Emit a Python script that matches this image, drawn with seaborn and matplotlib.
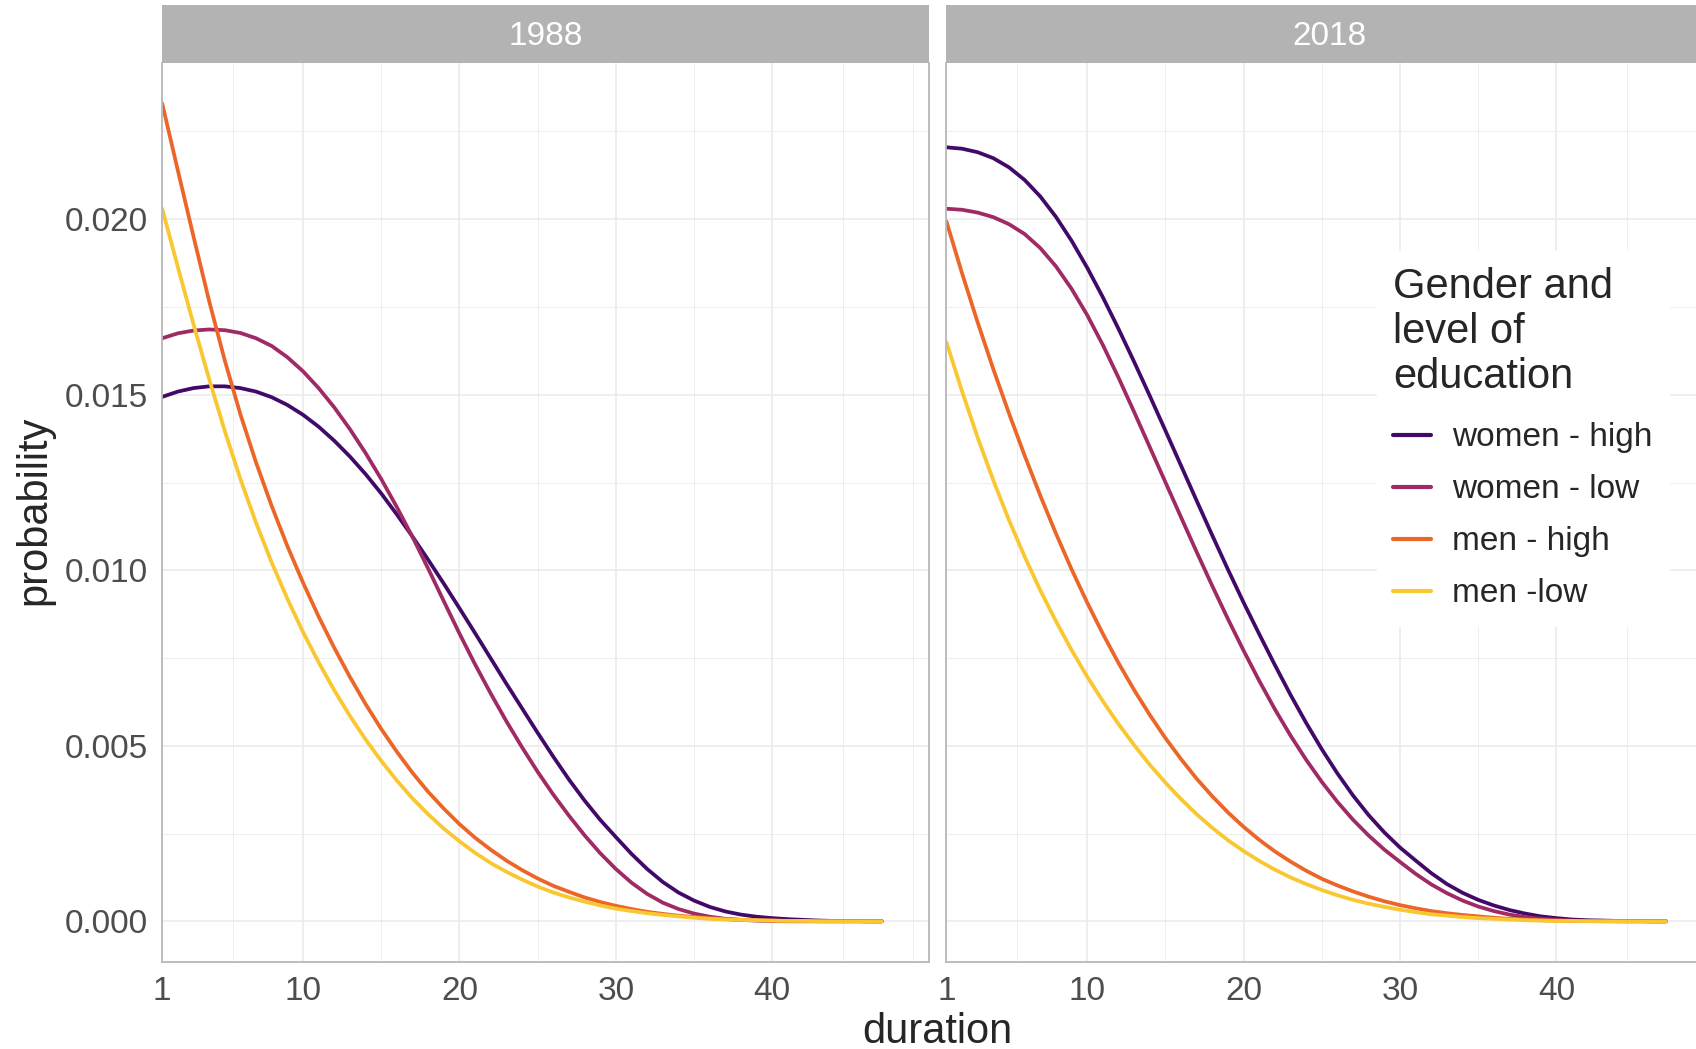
import numpy as np
import pandas as pd
import matplotlib.pyplot as plt
import seaborn as sns
from matplotlib.ticker import FixedLocator

# durations 1..47, values
duration = list(range(1, 48))

groups = ["women - high", "women - low", "men - high", "men -low"]
years = ["1988", "2018"]

# 1988
women_high_1988 = [0.01494, 0.01509, 0.01519, 0.01524, 0.01524, 0.01519, 0.01509, 0.01493,
                   0.01471, 0.01443, 0.01409, 0.01369, 0.01324, 0.01274, 0.01219, 0.01159,
                   0.01096, 0.01030, 0.00962, 0.00892, 0.00821, 0.00749, 0.00677, 0.00607,
                   0.00537, 0.00469, 0.00404, 0.00344, 0.00289, 0.00240, 0.00192, 0.00149,
                   0.00112, 0.00082, 0.00059, 0.00041, 0.00028, 0.00019, 0.00013, 0.00009,
                   0.00006, 0.00004, 0.00002, 0.00001, 0.00001, 0.0, 0.0]
women_low_1988 = [0.01661, 0.01675, 0.01683, 0.01686, 0.01684, 0.01676, 0.01661, 0.01639,
                  0.01607, 0.01567, 0.01519, 0.01464, 0.01402, 0.01334, 0.01260, 0.01180,
                  0.01095, 0.01005, 0.00912, 0.00820, 0.00732, 0.00649, 0.00570, 0.00496,
                  0.00426, 0.00361, 0.00301, 0.00245, 0.00194, 0.00149, 0.00110, 0.00078,
                  0.00053, 0.00035, 0.00022, 0.00013, 0.00007, 0.00004, 0.00002, 0.00001,
                  0.0, 0.0, 0.0, 0.0, 0.0, 0.0, 0.0]
men_high_1988 = [0.02330, 0.02139, 0.01951, 0.01767, 0.01598, 0.01444, 0.01307, 0.01183,
                 0.01069, 0.00965, 0.00868, 0.00779, 0.00696, 0.00619, 0.00548, 0.00483,
                 0.00423, 0.00369, 0.00321, 0.00277, 0.00238, 0.00204, 0.00173, 0.00146,
                 0.00122, 0.00101, 0.00084, 0.00068, 0.00055, 0.00044, 0.00035, 0.00027,
                 0.00021, 0.00016, 0.00012, 0.00009, 0.00006, 0.00004, 0.00003, 0.00002,
                 0.00001, 0.00001, 0.0, 0.0, 0.0, 0.0, 0.0]
men_low_1988 = [0.02030, 0.01864, 0.01701, 0.01545, 0.01397, 0.01260, 0.01135, 0.01022,
                0.00919, 0.00824, 0.00738, 0.00658, 0.00585, 0.00518, 0.00457, 0.00401,
                0.00350, 0.00305, 0.00264, 0.00228, 0.00195, 0.00166, 0.00141, 0.00119,
                0.00099, 0.00082, 0.00068, 0.00056, 0.00045, 0.00036, 0.00029, 0.00023,
                0.00018, 0.00014, 0.00010, 0.00007, 0.00005, 0.00004, 0.00003, 0.00002,
                0.00001, 0.00001, 0.0, 0.0, 0.0, 0.0, 0.0]

# 2018
women_high_2018 = [0.02205, 0.02201, 0.02191, 0.02174, 0.02148, 0.02112, 0.02065, 0.02007,
                   0.01939, 0.01862, 0.01778, 0.01688, 0.01594, 0.01497, 0.01398, 0.01298,
                   0.01198, 0.01099, 0.01002, 0.00908, 0.00818, 0.00730, 0.00645, 0.00565,
                   0.00490, 0.00421, 0.00358, 0.00302, 0.00253, 0.00210, 0.00173, 0.00137,
                   0.00106, 0.00081, 0.00061, 0.00045, 0.00032, 0.00022, 0.00014, 0.00009,
                   0.00005, 0.00003, 0.00002, 0.00001, 0.00001, 0.0, 0.0]
women_low_2018 = [0.02030, 0.02027, 0.02019, 0.02006, 0.01986, 0.01958, 0.01918, 0.01866,
                  0.01802, 0.01727, 0.01642, 0.01549, 0.01451, 0.01351, 0.01251, 0.01151,
                  0.01052, 0.00955, 0.00861, 0.00771, 0.00685, 0.00604, 0.00529, 0.00460,
                  0.00397, 0.00340, 0.00289, 0.00244, 0.00204, 0.00169, 0.00135, 0.00105,
                  0.00080, 0.00059, 0.00042, 0.00029, 0.00019, 0.00012, 0.00007, 0.00004,
                  0.00002, 0.00001, 0.00001, 0.0, 0.0, 0.0, 0.0]
men_high_2018 = [0.01994, 0.01846, 0.01706, 0.01573, 0.01447, 0.01327, 0.01213, 0.01105,
                 0.01003, 0.00908, 0.00819, 0.00736, 0.00659, 0.00588, 0.00522, 0.00462,
                 0.00406, 0.00356, 0.00310, 0.00269, 0.00232, 0.00199, 0.00170, 0.00144,
                 0.00121, 0.00102, 0.00085, 0.00070, 0.00057, 0.00046, 0.00037, 0.00029,
                 0.00023, 0.00018, 0.00014, 0.00010, 0.00007, 0.00005, 0.00003, 0.00002,
                 0.00001, 0.00001, 0.0, 0.0, 0.0, 0.0, 0.0]
men_low_2018 = [0.01650, 0.01510, 0.01378, 0.01256, 0.01143, 0.01039, 0.00943, 0.00855,
                0.00773, 0.00697, 0.00627, 0.00562, 0.00502, 0.00446, 0.00395, 0.00348,
                0.00305, 0.00266, 0.00231, 0.00200, 0.00172, 0.00147, 0.00125, 0.00106,
                0.00089, 0.00074, 0.00061, 0.00050, 0.00041, 0.00033, 0.00026, 0.00020,
                0.00016, 0.00012, 0.00009, 0.00007, 0.00005, 0.00003, 0.00002, 0.00001,
                0.00001, 0.0, 0.0, 0.0, 0.0, 0.0, 0.0]

series = {
    "1988": [women_high_1988, women_low_1988, men_high_1988, men_low_1988],
    "2018": [women_high_2018, women_low_2018, men_high_2018, men_low_2018],
}

rows = []
for yr in years:
    for grp, vals in zip(groups, series[yr]):
        for d, p in zip(duration, vals):
            rows.append({"year": yr, "group": grp, "duration": d, "probability": p})
df = pd.DataFrame(rows)

sns.set_theme(style="white")
plt.rcParams["font.family"] = ["Liberation Sans", "DejaVu Sans"]

cmap = plt.get_cmap("inferno")
palette = dict(zip(groups, [cmap(v) for v in [0.2, 0.43, 0.66, 0.87]]))

W, H = 1696, 1049
fig = plt.figure(figsize=(W / 100, H / 100), dpi=100)

px_left = [162.2, 946.4]
px_w = 766.5
px_top, px_bot = 62.7, 962.0

grid_col = "#EBEBEB"
axis_col = "#B8B8B8"

axes = []
for i, yr in enumerate(years):
    ax = fig.add_axes([px_left[i] / W, 1 - px_bot / H, px_w / W, (px_bot - px_top) / H])
    sub = df[df["year"] == yr]
    sns.lineplot(data=sub, x="duration", y="probability", hue="group",
                 hue_order=groups, palette=palette, linewidth=2.7,
                 legend=(i == 1), ax=ax)
    ax.set_xlim(1, 50)
    ax.set_ylim(-0.00116, 0.02446)
    ax.set_xticks([1, 10, 20, 30, 40])
    ax.set_yticks([0.0, 0.005, 0.010, 0.015, 0.020])
    ax.xaxis.set_minor_locator(FixedLocator([5.5, 15, 25, 35, 44.5, 49]))
    ax.yaxis.set_minor_locator(FixedLocator([0.0025, 0.0075, 0.0125, 0.0175, 0.0225]))
    ax.grid(which="major", color=grid_col, linewidth=1.2)
    ax.grid(which="minor", color=grid_col, linewidth=0.6)
    ax.set_axisbelow(True)
    ax.set_xlabel("")
    ax.set_ylabel("")
    for s in ["left", "bottom", "right"]:
        ax.spines[s].set_visible(True)
        ax.spines[s].set_color(axis_col)
        ax.spines[s].set_linewidth(1.3)
    ax.spines["top"].set_visible(False)
    ax.tick_params(which="major", axis="x", length=5, width=1.3, color=axis_col,
                   labelsize=24, labelcolor="#4D4D4D", pad=5)
    ax.tick_params(which="minor", length=0)
    if i == 0:
        ax.tick_params(which="major", axis="y", length=5, width=1.3, color=axis_col,
                       labelsize=24, labelcolor="#4D4D4D", pad=5)
        ax.yaxis.set_major_formatter(lambda v, _: f"{v:.3f}")
    else:
        ax.tick_params(axis="y", length=0, labelleft=False)
    axes.append(ax)

    # facet strip
    strip = fig.add_axes([px_left[i] / W, 1 - px_top / H, px_w / W, (px_top - 5.4) / H])
    strip.set_facecolor("#B3B3B3")
    strip.set_xticks([])
    strip.set_yticks([])
    for s in strip.spines.values():
        s.set_visible(False)
    strip.text(0.5, 0.46, yr, transform=strip.transAxes, ha="center", va="center",
               color="white", fontsize=24)

# legend inside the right panel
ax2 = axes[1]
handles, labels = ax2.get_legend_handles_labels()
ax2.get_legend().remove()
for h in handles:
    h.set_linewidth(3)
leg = ax2.legend(handles, labels, loc="upper left",
                 bbox_to_anchor=(1360 / W, 1 - 234 / H), bbox_transform=fig.transFigure,
                 title="Gender and\nlevel of\neducation", title_fontsize=30, fontsize=24,
                 alignment="left", frameon=True, fancybox=False,
                 handlelength=1.12, handletextpad=0.65, labelspacing=0.63, borderpad=0.5)
leg.get_title().set_linespacing(1.15)
leg._legend_box.sep = leg._legend_box.sep + 3.5
leg.get_frame().set_facecolor("white")
leg.get_frame().set_edgecolor("white")
leg.get_frame().set_alpha(1)

fig.text(937 / W, 1 - 1032 / H, "duration", ha="center", va="center", fontsize=30)
fig.text(34 / W, 1 - 510 / H, "probability", ha="center", va="center",
         rotation=90, fontsize=30)

fig.savefig("out.png", dpi=100, facecolor="white")
